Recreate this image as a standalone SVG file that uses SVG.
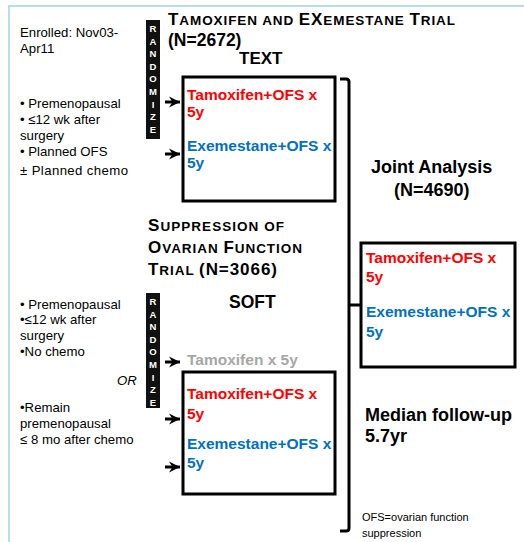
<svg xmlns="http://www.w3.org/2000/svg" width="524" height="542" viewBox="0 0 524 542">
<defs>
<style>
text{font-family:"Liberation Sans",Arial,sans-serif;fill:#000}
.lt{font-size:13.2px}
.b{font-weight:bold}
.sc{font-weight:bold;font-size:13.5px}
.big{font-size:17px}
.arm{font-size:15.5px;font-weight:bold}
.red{fill:#ff0000}
.blue{fill:#0070c0}
.gray{fill:#a6a6a6}
.rnd{font-size:9.5px;font-weight:bold;fill:#fff;text-anchor:middle}
.box{fill:#fff;stroke:#000;stroke-width:3}
.arr{stroke:#000;stroke-width:3;fill:none;marker-end:url(#ah)}
.frame{stroke:#b6dde8;stroke-width:2;fill:none}
</style>
<marker id="ah" markerUnits="userSpaceOnUse" markerWidth="12" markerHeight="12" refX="11" refY="6" orient="auto">
<path d="M0,0.5 L11,6 L0,11.5 L3.5,6 z" fill="#000"/>
</marker>
</defs>
<rect width="524" height="542" fill="#fff"/>
<path class="frame" d="M9,542 L9,6 L524,6"/>

<g id="enroll">
<text class="lt" x="20" y="37">Enrolled: Nov03-</text>
<text class="lt" x="20" y="53">Apr11</text>
</g>

<g id="text-eligibility">
<text class="lt" x="20" y="108">• Premenopausal</text>
<text class="lt" x="20" y="124">• ≤12 wk after</text>
<text class="lt" x="20" y="140">surgery</text>
<text class="lt" x="20" y="156">• Planned OFS</text>
<text class="lt" x="20" y="175" textLength="108" lengthAdjust="spacing">± Planned chemo</text>
</g>

<g id="randomize-1">
<rect x="146" y="20" width="14" height="119" fill="#111"/>
<text class="rnd" x="153" y="32">R</text>
<text class="rnd" x="153" y="44.6">A</text>
<text class="rnd" x="153" y="57.2">N</text>
<text class="rnd" x="153" y="69.8">D</text>
<text class="rnd" x="153" y="82.4">O</text>
<text class="rnd" x="153" y="95">M</text>
<text class="rnd" x="153" y="107.6">I</text>
<text class="rnd" x="153" y="120.2">Z</text>
<text class="rnd" x="153" y="132.8">E</text>
</g>

<g id="text-title">
<text class="sc" x="168" y="25" textLength="287" lengthAdjust="spacing"><tspan class="big">T</tspan>AMOXIFEN AND <tspan class="big">EX</tspan>EMESTANE <tspan class="big">T</tspan>RIAL</text>
<text class="b" x="168" y="46" style="font-size:17.5px">(N=2672)</text>
<text class="b" x="239" y="64" style="font-size:17px">TEXT</text>
</g>

<g id="text-box">
<rect class="box" x="183" y="77" width="152" height="124"/>
<text class="arm red" x="187" y="100">Tamoxifen+OFS x</text>
<text class="arm red" x="187" y="117">5y</text>
<text class="arm blue" x="187" y="151">Exemestane+OFS x</text>
<text class="arm blue" x="187" y="168">5y</text>
</g>

<g id="soft-title">
<text class="sc" x="148" y="231" textLength="136" lengthAdjust="spacing"><tspan class="big">S</tspan>UPPRESSION OF</text>
<text class="sc" x="148" y="253" textLength="154" lengthAdjust="spacing"><tspan class="big">O</tspan>VARIAN <tspan class="big">F</tspan>UNCTION</text>
<text class="sc" x="148" y="275" textLength="129" lengthAdjust="spacing"><tspan class="big">T</tspan>RIAL <tspan class="big">(N=3066)</tspan></text>
<text class="b" x="229" y="308" style="font-size:17.5px">SOFT</text>
</g>

<g id="soft-eligibility">
<text class="lt" x="20" y="309">• Premenopausal</text>
<text class="lt" x="20" y="324">•≤12 wk after</text>
<text class="lt" x="20" y="340">surgery</text>
<text class="lt" x="20" y="356">•No chemo</text>
<text class="lt" x="117" y="385" font-style="italic">OR</text>
<text class="lt" x="20" y="412">•Remain</text>
<text class="lt" x="20" y="428">premenopausal</text>
<text class="lt" x="20" y="444">≤ 8 mo after chemo</text>
</g>

<g id="randomize-2">
<rect x="146" y="293" width="14" height="115" fill="#111"/>
<text class="rnd" x="153" y="305">R</text>
<text class="rnd" x="153" y="317.6">A</text>
<text class="rnd" x="153" y="330.2">N</text>
<text class="rnd" x="153" y="342.8">D</text>
<text class="rnd" x="153" y="355.4">O</text>
<text class="rnd" x="153" y="368">M</text>
<text class="rnd" x="153" y="380.6">I</text>
<text class="rnd" x="153" y="393.2">Z</text>
<text class="rnd" x="153" y="405.8">E</text>
</g>

<g id="soft-tam">
<text class="arm gray" x="187" y="365">Tamoxifen x 5y</text>
</g>

<g id="soft-box">
<rect class="box" x="183" y="372" width="152" height="122"/>
<text class="arm red" x="187" y="399">Tamoxifen+OFS x</text>
<text class="arm red" x="187" y="419">5y</text>
<text class="arm blue" x="187" y="449">Exemestane+OFS x</text>
<text class="arm blue" x="187" y="468">5y</text>
</g>

<g id="joint-label">
<text class="b" x="371" y="173" style="font-size:18px">Joint Analysis</text>
<text class="b" x="394" y="196" style="font-size:18px">(N=4690)</text>
</g>

<g id="joint-box">
<rect class="box" x="361" y="243" width="154" height="124"/>
<text class="arm red" x="366" y="263">Tamoxifen+OFS x</text>
<text class="arm red" x="366" y="282">5y</text>
<text class="arm blue" x="366" y="317">Exemestane+OFS x</text>
<text class="arm blue" x="366" y="337">5y</text>
</g>

<g id="followup">
<text class="b" x="365" y="421" style="font-size:18px">Median follow-up</text>
<text class="b" x="365" y="442" style="font-size:18px">5.7yr</text>
</g>

<g id="footnote">
<text x="362" y="521" style="font-size:11px">OFS=ovarian function</text>
<text x="362" y="537" style="font-size:11px">suppression</text>
</g>

<g id="connectors">
<line class="arr" x1="165" y1="102" x2="180" y2="102"/>
<line class="arr" x1="165" y1="154" x2="180" y2="154"/>
<line class="arr" x1="165" y1="362" x2="180" y2="362"/>
<line class="arr" x1="165" y1="419" x2="180" y2="419"/>
<line class="arr" x1="165" y1="467" x2="180" y2="467"/>
<path d="M340,79 L346,79 Q349,79 349,82 L349,528 Q349,531 346,531 L340,531" fill="none" stroke="#000" stroke-width="3"/>
<line x1="349" y1="305" x2="360" y2="305" stroke="#000" stroke-width="3"/>
</g>
</svg>
